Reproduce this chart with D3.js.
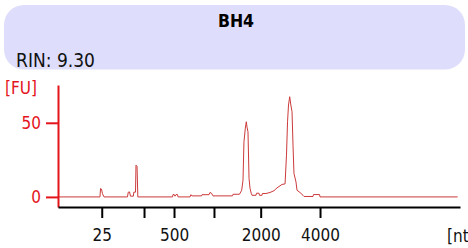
<!DOCTYPE html>
<html>
<head>
<meta charset="utf-8">
<script src="https://cdn.jsdelivr.net/npm/d3@7"></script>
<style>
body { margin:0; background:#fff; overflow:hidden; }
text { font-family:"DejaVu Sans Condensed","DejaVu Sans",sans-serif; }
</style>
</head>
<body>
<div id="chart"></div>
<script>
(function(){
var width = 468,
	height = 248,
	plot = {left:58, right:460, top:85, bottom:207};

// sample info
var title = "BH4",
	rin = "RIN: 9.30";

// electropherogram trace: migration time [s] and fluorescence [FU]
var time = [19.00,24.22,24.29,24.41,24.53,24.72,27.64,27.74,27.89,28.02,28.37,28.43,28.64,28.70,28.83,28.93,
	33.24,33.30,33.45,33.55,33.68,33.86,33.93,35.42,35.52,35.67,36.85,36.91,37.78,37.90,38.09,38.28,
	40.70,40.77,41.57,41.85,42.01,42.13,42.30,42.42,42.51,42.63,42.76,42.88,43.03,43.13,43.63,43.69,
	44.00,44.06,44.37,44.43,44.87,45.37,45.87,46.24,46.86,47.24,47.42,47.55,47.67,47.82,47.96,48.11,
	48.23,48.35,48.60,48.73,49.10,49.47,49.60,50.72,50.78,51.53,51.59,68.71];
var fu = [0,0,5.7,5.3,2.2,0,0,3.2,3.4,0.5,0.5,3.2,3.2,21.4,20.7,0,
	0,1.6,1.6,0.5,1.6,1.6,0,0,1.5,0.7,0.7,1.5,1.5,3.0,2.5,0.7,
	0.7,1.8,1.8,4.5,11.3,37.2,46.4,50.7,47.1,43.9,12.6,5.9,2.5,1.1,1.1,2.5,
	2.5,1.1,1.1,2.3,2.3,3.0,4.2,6.1,8.4,8.8,28.2,50.7,62.0,67.6,62.0,57.4,
	34.9,15.8,10.1,4.5,3.0,1.1,0.3,0.3,1.6,1.6,0,0];

// ladder positions on the time axis and their size labels
var ladderTime = [24.44,29.70,33.43,38.40,44.21,51.59],
	ladderLabel = ["25","","500","","2000","4000"];

var yTicks = [0,50];

var X = d3.scaleLinear().domain([19,69]).range([plot.left,plot.right]);
var Y = d3.scaleLinear().domain([-6.8,75.5]).range([plot.bottom,plot.top]);

var svg = d3.select("#chart").append("svg")
	.attr("width",width)
	.attr("height",height);

// header box
svg.append("rect")
	.attr("x",4).attr("y",5)
	.attr("width",461).attr("height",64.5)
	.attr("rx",20).attr("ry",20)
	.attr("fill","#dedefc");

svg.append("text")
	.attr("x",236).attr("y",27)
	.attr("text-anchor","middle")
	.attr("font-size","17.5px")
	.attr("font-weight","bold")
	.attr("fill","#000")
	.text(title);

svg.append("text")
	.attr("x",16).attr("y",67)
	.attr("font-size","19px")
	.attr("fill","#111")
	.text(rin);

// trace
var line = d3.line()
	.x(function(d){return X(d[0])})
	.y(function(d){return Y(d[1])});

svg.append("path")
	.datum(d3.zip(time,fu))
	.attr("d",line)
	.attr("fill","none")
	.attr("stroke","#cc3a3a")
	.attr("stroke-width",1);

// y axis
var yAxis = d3.axisLeft(Y).tickValues(yTicks).tickSize(12).tickPadding(5).tickSizeOuter(0);
var gy = svg.append("g")
	.attr("transform","translate("+plot.left+",0)")
	.call(yAxis);
gy.select(".domain").attr("stroke","#e4141b").attr("stroke-width",2);
gy.selectAll(".tick line").attr("stroke","#e4141b").attr("stroke-width",2);
gy.selectAll(".tick text")
	.attr("fill","#e4141b")
	.attr("font-size","17px")
	.attr("font-family","DejaVu Sans Condensed, DejaVu Sans, sans-serif");

svg.append("text")
	.attr("x",5).attr("y",94)
	.attr("font-size","17px")
	.attr("fill","#e4141b")
	.text("[FU]");

// x axis
var xAxis = d3.axisBottom(X).tickValues(ladderTime)
	.tickFormat(function(d,i){return ladderLabel[i]})
	.tickSize(11).tickPadding(11).tickSizeOuter(0);
var gx = svg.append("g")
	.attr("transform","translate(0,"+plot.bottom+")")
	.call(xAxis);
gx.select(".domain").attr("stroke","#000").attr("stroke-width",2);
gx.selectAll(".tick line").attr("stroke","#000").attr("stroke-width",2);
gx.selectAll(".tick text")
	.attr("fill","#111")
	.attr("font-size","17px")
	.attr("font-family","DejaVu Sans Condensed, DejaVu Sans, sans-serif");

svg.append("text")
	.attr("x",447).attr("y",241.5)
	.attr("font-size","17px")
	.attr("fill","#111")
	.text("[nt]");

})()
</script>
</body>
</html>
